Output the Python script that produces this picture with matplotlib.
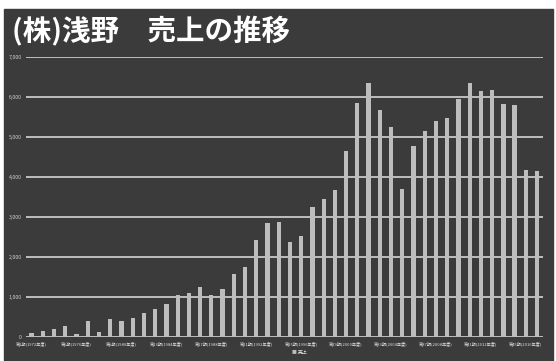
import numpy as np
import matplotlib
matplotlib.use("Agg")
import matplotlib.pyplot as plt
from matplotlib.patches import Rectangle

plt.rcParams['font.family'] = ['Noto Sans CJK JP', 'DejaVu Sans']

# 売上 (46期分), 図から読み取った概算値
periods = [f"第{i}期({1971 + i}年度)" for i in range(1, 47)]
sales = [100, 150, 200, 275, 80, 400, 110, 440, 390, 475,
         590, 690, 825, 1035, 1100, 1235, 1040, 1185, 1570, 1750,
         2420, 2850, 2870, 2375, 2520, 3250, 3435, 3670, 4640, 5835,
         6350, 5670, 5250, 3700, 4770, 5140, 5390, 5460, 5940, 6350,
         6150, 6170, 5810, 5785, 4170, 4150]
yticks = [0, 1000, 2000, 3000, 4000, 5000, 6000, 7000]
title = "(株)浅野　売上の推移"
legend_label = "売上"

W, H = 556, 361
fig = plt.figure(figsize=(W / 100, H / 100), dpi=100, facecolor='white')
# 暗い背景パネル
bg = Rectangle((4 / W, 0), 549 / W, (H - 9) / H,
               transform=fig.transFigure, color='#3b3b3b', zorder=-10)
fig.add_artist(bg)

ax = fig.add_axes([26 / W, 1 - 336.7 / H, 516.7 / W, 280 / H])
ax.set_facecolor('none')
ax.set_zorder(5)

x = np.arange(len(sales))
ax.bar(x, sales, width=0.38, color='#bdbdbd', zorder=3)

ax.set_xlim(-0.5, len(sales) - 0.5)
ax.set_ylim(0, 7000)
ax.set_yticks(yticks)
ax.set_yticklabels([f"{v:,}" for v in yticks], fontsize=3.8, color='#d0d0d0')
for v in yticks:
    ax.axhline(v, color='#c8c8c8', lw=1.3, zorder=1)

ax.set_xticks(x[::4])
ax.set_xticklabels(periods[::4], fontsize=3.0, color='#e0e0e0')
ax.tick_params(length=0, pad=3)
for s in ax.spines.values():
    s.set_visible(False)

fig.text(12 / W, 1 - 31 / H, title, fontsize=20.5, fontweight='bold',
         color='white', va='center', ha='left', zorder=6)

# 凡例
fig.text(296 / W, 1 - 352 / H, "■", fontsize=3.5, color='#bdbdbd', va='center', ha='right', zorder=6)
fig.text(298 / W, 1 - 352 / H, legend_label, fontsize=3.5, color='#e0e0e0', va='center', ha='left', zorder=6)

fig.savefig("out.png", dpi=100, facecolor=fig.get_facecolor())
